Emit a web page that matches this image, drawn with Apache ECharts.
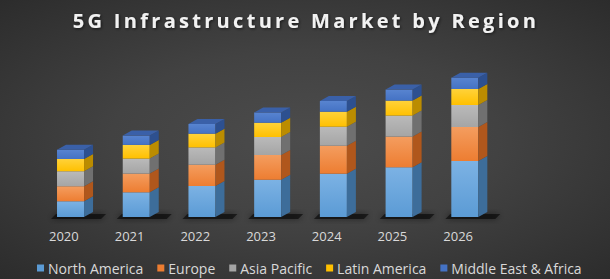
<!DOCTYPE html>
<html>
<head>
<meta charset="utf-8">
<script src="https://cdn.jsdelivr.net/npm/echarts@6/dist/echarts.min.js"></script>
<style>
  html, body { margin: 0; padding: 0; }
  body { width: 610px; height: 279px; background: radial-gradient(ellipse at 50% 50%, #4c4c4c 0%, #424242 45%, #2c2c2c 100%); }
  #chart { width: 610px; height: 279px; }
</style>
</head>
<body>
<div id="chart"></div>
<script>
// Data (arbitrary units)
const years = ['2020', '2021', '2022', '2023', '2024', '2025', '2026'];
const northAmerica = [15.7, 24.7, 31.0, 37.3, 43.3, 49.7, 56.0];
const europe       = [15.0, 18.7, 21.3, 24.7, 28.0, 30.7, 34.0];
const asiaPacific  = [15.0, 15.0, 17.3, 18.0, 19.0, 21.0, 22.0];
const latinAmerica = [12.3, 13.7, 13.7, 14.3, 15.0, 15.0, 16.0];
const middleEastAfrica = [9.3, 9.3, 9.7, 10.3, 10.7, 11.0, 11.3];

const titleText = '5G Infrastructure Market by Region';
const regions = ['North America', 'Europe', 'Asia Pacific', 'Latin America', 'Middle East & Africa'];
const values = [northAmerica, europe, asiaPacific, latinAmerica, middleEastAfrica];
const palette = [
  { base: '#5B9BD5', light: '#7cb2e4', side: '#3d6d9a', top: '#5087bd' },
  { base: '#ED7D31', light: '#f49d5f', side: '#b0571c', top: '#d06a26' },
  { base: '#A5A5A5', light: '#bababa', side: '#707070', top: '#909090' },
  { base: '#FFC000', light: '#ffd23a', side: '#bb8c00', top: '#e0a800' },
  { base: '#4472C4', light: '#5884d0', side: '#2d5090', top: '#3a60a8' }
];

const chart = echarts.init(document.getElementById('chart'), null, { renderer: 'svg' });

const cum = years.map(() => 0);
const series = values.map((vals, s) => {
  const data = vals.map((v, i) => {
    const lo = cum[i];
    cum[i] += v;
    return [i, lo, cum[i]];
  });
  const col = palette[s];
  const isFirst = s === 0;
  const isLast = s === values.length - 1;
  return {
    name: regions[s],
    type: 'custom',
    itemStyle: { color: col.base },
    encode: { x: 0, y: 2 },
    data: data,
    renderItem: function (params, api) {
      const i = api.value(0), lo = api.value(1), hi = api.value(2);
      const p0 = api.coord([i, lo]);
      const p1 = api.coord([i, hi]);
      const band = api.size([1, 0])[0];
      const w = band * 0.411;
      const L = p0[0] - band * 0.104;
      const R = L + w;
      const dx = band * 0.137;
      const dy = 5;
      const yb = p0[1], yt = p1[1];
      const children = [];
      if (isFirst) {
        children.push({
          type: 'polygon',
          shape: { points: [[L - 6, yb + 2], [R + dx + 8, yb + 2], [R + dx + 13, yb - 3], [L - 1, yb - 3]] },
          style: { fill: 'rgba(0,0,0,0.55)', shadowBlur: 6, shadowColor: 'rgba(0,0,0,0.9)' }
        });
      }
      children.push({
        type: 'rect',
        shape: { x: L, y: yt, width: w, height: yb - yt },
        style: { fill: new echarts.graphic.LinearGradient(0, 0, 0, 1, [
          { offset: 0, color: col.light }, { offset: 1, color: col.base }]) }
      });
      children.push({
        type: 'polygon',
        shape: { points: [[R, yb], [R + dx, yb - dy], [R + dx, yt - dy], [R, yt]] },
        style: { fill: col.side }
      });
      if (isLast) {
        children.push({
          type: 'polygon',
          shape: { points: [[L, yt], [R, yt], [R + dx, yt - dy], [L + dx, yt - dy]] },
          style: { fill: col.top }
        });
      }
      return { type: 'group', children: children };
    }
  };
});

chart.setOption({
  backgroundColor: 'transparent',
  animation: false,
  graphic: [{
    type: 'text',
    x: 306,
    y: 10,
    style: {
      text: titleText,
      fill: '#f2f2f2',
      font: 'bold 20px "Open Sans"',
      align: 'center',
      verticalAlign: 'top',
      textShadowColor: 'rgba(0,0,0,0.6)',
      textShadowBlur: 3,
      textShadowOffsetX: 1,
      textShadowOffsetY: 1
    }
  }],
  legend: {
    data: regions,
    left: 32,
    top: 256,
    icon: 'rect',
    itemWidth: 7,
    itemHeight: 7,
    itemGap: 14,
    textStyle: { color: '#d9d9d9', fontFamily: 'Open Sans', fontSize: 14, padding: [0, 0, 0, -1] }
  },
  grid: { left: 31, right: 119, top: 17, bottom: 62 },
  xAxis: {
    type: 'category',
    data: years,
    boundaryGap: true,
    axisLine: { show: false },
    axisTick: { show: false },
    axisLabel: { color: '#d9d9d9', fontFamily: 'Open Sans', fontSize: 13, margin: 12 }
  },
  yAxis: { type: 'value', min: 0, max: 200, show: false, splitLine: { show: false } },
  series: series
});

// Reproduce the wide letter spacing of the title text
function spaceTitle() {
  document.querySelectorAll('#chart svg text').forEach(function (t) {
    if (t.textContent === titleText) {
      t.setAttribute('letter-spacing', '3.3');
      t.style.letterSpacing = '3.3px';
    }
  });
}
chart.getZr().refreshImmediately();
spaceTitle();
chart.on('finished', spaceTitle);
</script>
</body>
</html>
